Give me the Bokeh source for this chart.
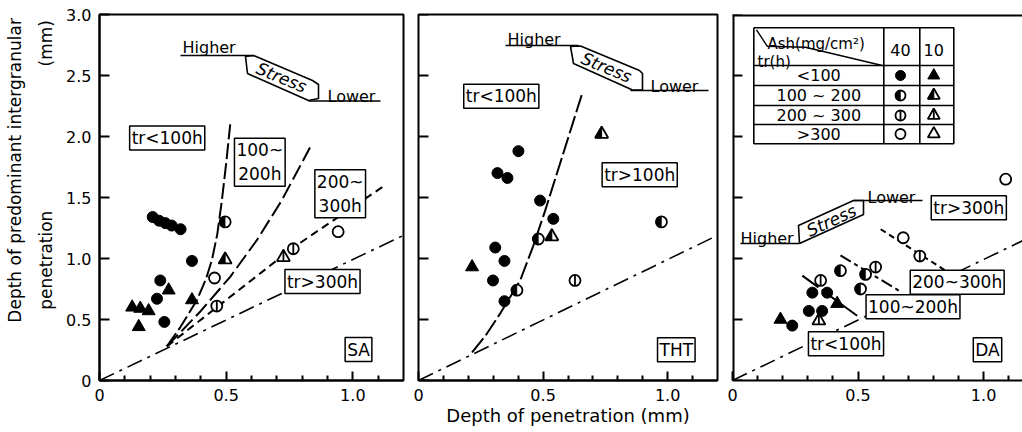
import math
from bokeh.plotting import figure
from bokeh.layouts import row
from bokeh.models import Range1d, Label, FixedTicker
from bokeh.embed import file_html
from bokeh.resources import INLINE

FONT = "DejaVu Sans"

# ---------------- data ----------------
TR_CLASSES = ["<100", "100~200", "200~300", ">300"]
TR_TABLE_LABELS = ["<100", "100 ~ 200", "200 ~ 300", ">300"]
ASH_LEVELS = [40, 10]
PANEL_NAMES = ["SA", "THT", "DA"]
X_TICKS = [0, 0.5, 1.0]
X_TICK_LABELS = ["0", "0.5", "1.0"]
Y_TICKS = [0, 0.5, 1.0, 1.5, 2.0, 2.5, 3.0]
Y_TICK_LABELS = ["0", "0.5", "1.0", "1.5", "2.0", "2.5", "3.0"]
Y_TITLE_1 = "Depth of predominant intergranular"
Y_TITLE_2 = "penetration"
Y_TITLE_UNIT = "(mm)"
X_TITLE = "Depth of penetration (mm)"

SA_x = [0.21, 0.235, 0.26, 0.285, 0.32, 0.365, 0.24, 0.227, 0.256,
        0.273, 0.129, 0.161, 0.194, 0.155, 0.365,
        0.496, 0.496, 0.463, 0.765, 0.726, 0.454, 0.942]
SA_y = [1.34, 1.31, 1.29, 1.27, 1.24, 0.98, 0.82, 0.67, 0.48,
        0.74, 0.60, 0.59, 0.57, 0.44, 0.66,
        1.30, 0.99, 0.61, 1.08, 1.01, 0.84, 1.22]
SA_ash = [40, 40, 40, 40, 40, 40, 40, 40, 40,
          10, 10, 10, 10, 10, 10,
          40, 10, 40, 40, 10, 40, 40]
SA_tr = ["<100", "<100", "<100", "<100", "<100", "<100", "<100", "<100", "<100",
         "<100", "<100", "<100", "<100", "<100", "<100",
         "100~200", "100~200", "200~300", "200~300", "200~300", ">300", ">300"]

THT_x = [0.401, 0.317, 0.357, 0.488, 0.541, 0.308, 0.345, 0.299, 0.345,
         0.215, 0.481, 0.395, 0.975, 0.735, 0.535, 0.628]
THT_y = [1.88, 1.70, 1.66, 1.475, 1.325, 1.09, 0.98, 0.82, 0.65,
         0.93, 1.16, 0.74, 1.30, 2.02, 1.18, 0.82]
THT_ash = [40, 40, 40, 40, 40, 40, 40, 40, 40,
           10, 40, 40, 40, 10, 10, 40]
THT_tr = ["<100", "<100", "<100", "<100", "<100", "<100", "<100", "<100", "<100",
          "<100", "100~200", "100~200", "100~200", "100~200", "100~200", "200~300"]

DA_x = [0.318, 0.377, 0.304, 0.357, 0.238, 0.191, 0.417,
        0.43, 0.53, 0.51, 0.351, 0.57, 0.746, 0.344, 0.68, 1.088]
DA_y = [0.72, 0.72, 0.57, 0.57, 0.45, 0.50, 0.63,
        0.90, 0.87, 0.75, 0.82, 0.93, 1.02, 0.49, 1.17, 1.65]
DA_ash = [40, 40, 40, 40, 40, 10, 10,
          40, 40, 40, 40, 40, 40, 10, 40, 40]
DA_tr = ["<100", "<100", "<100", "<100", "<100", "<100", "<100",
         "100~200", "100~200", "100~200", "200~300", "200~300", "200~300", "200~300", ">300", ">300"]

# boundary curves
SA_b1_x = [0.266, 0.32, 0.385, 0.42, 0.444, 0.465, 0.483, 0.50, 0.516]
SA_b1_y = [0.28, 0.44, 0.66, 0.83, 0.99, 1.20, 1.475, 1.78, 2.10]
SA_b2_x = [0.266, 0.40, 0.516, 0.621, 0.719, 0.831]
SA_b2_y = [0.28, 0.57, 0.85, 1.15, 1.475, 1.91]
SA_b3_x = [0.266, 0.463, 0.765, 1.12]
SA_b3_y = [0.28, 0.60, 1.09, 1.59]
THT_b1_x = [0.215, 0.27, 0.328, 0.408, 0.46, 0.508, 0.655]
THT_b1_y = [0.23, 0.37, 0.55, 0.82, 1.10, 1.39, 2.34]
DA_b100_x = [0.278, 0.51]
DA_b100_y = [0.86, 0.51]
DA_b200_x = [0.43, 0.676]
DA_b200_y = [1.025, 0.72]
DA_b300_x = [0.59, 0.849]
DA_b300_y = [1.24, 0.90]
REF_x = [0.0, 1.2]
REF_y = [0.0, 1.19]

# ---------------- geometry ----------------
W0 = 58                       # strip holding the y title
W = [350, 317, 297]
BL = [41, 10, 7]
BR = [5, 8, 0]
XMAX = [1.2, 1.2, 1.155]
H, TOP, BOT = 432, 14, 52
ORIGIN_X = [W0 + sum(W[:k]) + BL[k] for k in range(3)]
PPY = (H - TOP - BOT) / 3.0
MINOR = [0.1, 0.2, 0.3, 0.4, 0.6, 0.7, 0.8, 0.9, 1.1]
CIRCLE_SIZE = 11
TRI_SIZE = 13


def ppx(k):
    return (W[k] - BL[k] - BR[k]) / XMAX[k]


def D(k, px, py):
    return ((px - ORIGIN_X[k]) / ppx(k), (H - BOT - py) / PPY)


def make_fig(k):
    p = figure(width=W[k], height=H, x_range=Range1d(0, XMAX[k]), y_range=Range1d(0, 3.0),
               output_backend="svg", toolbar_location=None,
               min_border_left=BL[k], min_border_right=BR[k],
               min_border_top=TOP, min_border_bottom=BOT)
    p.xgrid.visible = False
    p.ygrid.visible = False
    p.background_fill_color = "white"
    p.border_fill_color = "white"
    p.outline_line_color = "black" if k < 2 else None
    p.outline_line_width = 2
    xa = p.xaxis[0]
    xa.ticker = FixedTicker(ticks=X_TICKS, minor_ticks=MINOR)
    xa.major_label_overrides = dict(zip(X_TICKS, X_TICK_LABELS))
    xa.axis_line_width = 2
    xa.major_tick_in = 9
    xa.major_tick_out = 0
    xa.minor_tick_in = 5
    xa.minor_tick_out = 0
    xa.major_tick_line_width = 2
    xa.minor_tick_line_width = 2
    xa.major_label_text_font = FONT
    xa.major_label_text_font_size = "16px"
    xa.major_label_text_color = "black"
    xa.major_label_standoff = 8
    ya = p.yaxis[0]
    if k == 0:
        ya.ticker = FixedTicker(ticks=Y_TICKS, minor_ticks=[])
        ya.axis_line_width = 2
        ya.major_tick_in = 10
        ya.major_tick_out = 0
        ya.major_tick_line_width = 2
        ya.minor_tick_line_color = None
        ya.major_label_overrides = dict(zip(Y_TICKS, Y_TICK_LABELS))
        ya.major_label_text_font = FONT
        ya.major_label_text_font_size = "16px"
        ya.major_label_text_color = "black"
        ya.major_label_standoff = 8
    else:
        ya.visible = False
        n = len(Y_TICKS)
        p.segment([0] * n, Y_TICKS, [10 / ppx(k)] * n, Y_TICKS, line_color="black", line_width=2)
    if k == 2:
        # frame border on the left and top only (right side is cut by the page edge)
        p.line([0, 0], [0, 3.0], line_color="black", line_width=4)
        p.line([0, XMAX[k]], [3.0, 3.0], line_color="black", line_width=4)
    return p


def text(p, k, px, py, s, size="16px", align="left", baseline="alphabetic", angle=0.0,
         style="normal", boxed=False):
    x, y = D(k, px, py)
    kw = {}
    if boxed:
        kw = dict(border_line_color="black", border_line_width=1.5,
                  background_fill_color="white", padding=2)
    p.add_layout(Label(x=x, y=y, text=s, text_align=align, text_baseline=baseline,
                       text_font=FONT, text_font_size=size, text_font_style=style,
                       text_color="black", angle=angle, **kw))


def pxline(p, k, pts, width=1.6):
    xs = [D(k, a, b)[0] for a, b in pts]
    ys = [D(k, a, b)[1] for a, b in pts]
    p.line(xs, ys, line_color="black", line_width=width)


def draw_symbol(p, k, xs, ys, ash, tr, csize=CIRCLE_SIZE, tsize=TRI_SIZE):
    if not xs:
        return
    lw = 1.8
    if ash == 40:
        if tr == "<100":
            p.scatter(xs, ys, marker="circle", size=csize, fill_color="black", line_color="black")
        else:
            p.scatter(xs, ys, marker="circle", size=csize, fill_color="white",
                      line_color="black", line_width=lw)
        if tr == "100~200":
            p.wedge(xs, ys, radius=csize / 2, radius_units="screen",
                    start_angle=math.pi / 2, end_angle=3 * math.pi / 2,
                    fill_color="black", line_color="black", line_width=0.5)
        if tr == "200~300":
            p.scatter(xs, ys, marker="dash", size=csize, angle=math.pi / 2,
                      line_color="black", line_width=lw)
    else:
        r = tsize / 2
        h = r * math.sqrt(3)
        sx, sy = ppx(k), PPY
        if tr == "<100":
            p.scatter(xs, ys, marker="triangle", size=tsize, fill_color="black", line_color="black")
        else:
            p.scatter(xs, ys, marker="triangle", size=tsize, fill_color="white",
                      line_color="black", line_width=lw)
        if tr == "100~200":
            p.patches([[x, x - r / sx, x] for x in xs],
                      [[y + 2 * h / 3 / sy, y - h / 3 / sy, y - h / 3 / sy] for y in ys],
                      fill_color="black", line_color="black", line_width=1)
        if tr == "200~300":
            p.segment(xs, [y + 2 * h / 3 / sy for y in ys], xs, [y - h / 3 / sy for y in ys],
                      line_color="black", line_width=lw)


def draw_points(p, k, X, Y, A, T):
    for ash in ASH_LEVELS:
        for tr in TR_CLASSES:
            sel = [i for i in range(len(X)) if A[i] == ash and T[i] == tr]
            draw_symbol(p, k, [X[i] for i in sel], [Y[i] for i in sel], ash, tr)


def stress_label(p, k, hi, lo, hi_line, lo_line, box, center, angle):
    text(p, k, hi[0], hi[1], "Higher")
    text(p, k, lo[0], lo[1], "Lower")
    pxline(p, k, hi_line)
    pxline(p, k, lo_line)
    pxline(p, k, box)
    text(p, k, center[0], center[1], "Stress", size="17px", align="center",
         baseline="middle", angle=angle, style="italic")


# ---------------- y title strip ----------------
p0 = figure(width=W0, height=H, x_range=Range1d(0, W0), y_range=Range1d(H, 0),
            output_backend="svg", toolbar_location=None, x_axis_type=None, y_axis_type=None,
            min_border_left=0, min_border_right=0, min_border_top=0, min_border_bottom=0)
p0.grid.visible = False
p0.outline_line_color = None
p0.background_fill_color = "white"
p0.border_fill_color = "white"
for tx, ty, s in [(14, 184, Y_TITLE_1), (45, 290, Y_TITLE_2), (45, 34, Y_TITLE_UNIT)]:
    p0.add_layout(Label(x=tx, y=ty, text=s, text_align="center", text_baseline="middle",
                        angle=math.pi / 2, text_font=FONT, text_font_size="17px",
                        text_color="black"))

# ---------------- panel 1: SA ----------------
p1 = make_fig(0)
dd = "16 6 3 6"
p1.line(REF_x, REF_y, line_color="black", line_width=1.6, line_dash=dd)
p1.line(SA_b1_x, SA_b1_y, line_color="black", line_width=2, line_dash="16 4")
p1.line(SA_b2_x, SA_b2_y, line_color="black", line_width=2, line_dash="16 5")
p1.line(SA_b3_x, SA_b3_y, line_color="black", line_width=2, line_dash="8 5")
draw_points(p1, 0, SA_x, SA_y, SA_ash, SA_tr)
stress_label(p1, 0, (182, 47), (327, 96),
             [(180, 55), (253, 55)], [(308, 100.5), (380, 100.5)],
             [(253, 55), (245, 56), (247, 73), (308, 100), (318, 98), (318, 84), (312, 80), (253, 55)],
             (281, 77), -0.39)
text(p1, 0, 166.7, 137.5, "tr<100h", size="17px", align="center", baseline="middle", boxed=True)
text(p1, 0, 259.3, 161.7, "100~\n200h", size="17px", align="center", baseline="middle", boxed=True)
text(p1, 0, 339.7, 193.3, "200~\n300h", size="17px", align="center", baseline="middle", boxed=True)
text(p1, 0, 322, 281, "tr>300h", size="17px", align="center", baseline="middle", boxed=True)
text(p1, 0, 358, 349, PANEL_NAMES[0], size="17px", align="center", baseline="middle", boxed=True)

# ---------------- panel 2: THT ----------------
p2 = make_fig(1)
p2.line(REF_x, REF_y, line_color="black", line_width=1.6, line_dash=dd)
p2.line(THT_b1_x, THT_b1_y, line_color="black", line_width=2, line_dash="18 4")
draw_points(p2, 1, THT_x, THT_y, THT_ash, THT_tr)
stress_label(p2, 1, (507, 39), (650, 86),
             [(505, 45), (578, 45)], [(630, 90), (708, 90)],
             [(580, 45.5), (570, 46), (573, 63), (632, 89.5), (642, 89.5), (642, 73), (639, 70), (580, 45.5)],
             (606, 67), -0.39)
text(p2, 1, 500.8, 95.8, "tr<100h", size="17px", align="center", baseline="middle", boxed=True)
text(p2, 1, 639.2, 174.2, "tr>100h", size="17px", align="center", baseline="middle", boxed=True)
text(p2, 1, 675.8, 349.3, PANEL_NAMES[1], size="17px", align="center", baseline="middle", boxed=True)
xa2 = p2.xaxis[0]
xa2.axis_label = X_TITLE
xa2.axis_label_text_font = FONT
xa2.axis_label_text_font_size = "18px"
xa2.axis_label_text_font_style = "normal"
xa2.axis_label_text_color = "black"
xa2.axis_label_standoff = 1

# ---------------- panel 3: DA ----------------
p3 = make_fig(2)
p3.line([0, XMAX[2]], [0, XMAX[2] * REF_y[1] / REF_x[1]], line_color="black", line_width=1.6, line_dash=dd)
p3.line(DA_b100_x, DA_b100_y, line_color="black", line_width=2, line_dash="20 4")
p3.line(DA_b200_x, DA_b200_y, line_color="black", line_width=2, line_dash="12 4 4 4")
p3.line(DA_b300_x, DA_b300_y, line_color="black", line_width=2, line_dash="6 4")
draw_points(p3, 2, DA_x, DA_y, DA_ash, DA_tr)
stress_label(p3, 2, (740, 238), (867, 197),
             [(740, 243), (799, 243)], [(853, 200), (922, 200)],
             [(799, 243), (798, 225), (853, 200), (863, 200), (863, 214), (799, 243)],
             (831, 220), 0.43)
text(p3, 2, 968.3, 207.2, "tr>300h", size="17px", align="center", baseline="middle", boxed=True)
text(p3, 2, 956.7, 281.7, "200~300h", size="17px", align="center", baseline="middle", boxed=True)
text(p3, 2, 912.5, 306.3, "100~200h", size="17px", align="center", baseline="middle", boxed=True)
text(p3, 2, 845.5, 343.3, "tr<100h", size="17px", align="center", baseline="middle", boxed=True)
text(p3, 2, 987, 349.2, PANEL_NAMES[2], size="17px", align="center", baseline="middle", boxed=True)

# legend table
tl, tr_, tt, tb = 753.3, 953.3, 27.3, 143.3
col_div = [883.3, 919.3]
row_div = [65, 85, 105, 124]
pxline(p3, 2, [(tl, tt), (tr_, tt), (tr_, tb), (tl, tb), (tl, tt)], 1.6)
for cx in col_div:
    pxline(p3, 2, [(cx, tt), (cx, tb)], 1.6)
for ry in row_div:
    pxline(p3, 2, [(tl, ry), (tr_, ry)], 1.6)
pxline(p3, 2, [(756, 29.3), (766.7, 45.7), (805, 46.7), (881.7, 65)], 1.4)
text(p3, 2, 767, 43, "Ash(mg/cm²)", size="15px")
text(p3, 2, 757, 61, "tr(h)", size="15px")
col_x = [900, 933.3]
row_y = [75, 95, 115, 133.5]
for j, ash in enumerate(ASH_LEVELS):
    text(p3, 2, col_x[j], 49, str(ash), size="16px", align="center", baseline="middle")
for i, tr in enumerate(TR_CLASSES):
    text(p3, 2, 818.3, row_y[i], TR_TABLE_LABELS[i], size="16px", align="center", baseline="middle")
    for j, ash in enumerate(ASH_LEVELS):
        lx, ly = D(2, col_x[j], row_y[i])
        draw_symbol(p3, 2, [lx], [ly], ash, tr, csize=10, tsize=12)

layout = row(p0, p1, p2, p3)
open("out.html", "w").write(file_html(layout, INLINE))
